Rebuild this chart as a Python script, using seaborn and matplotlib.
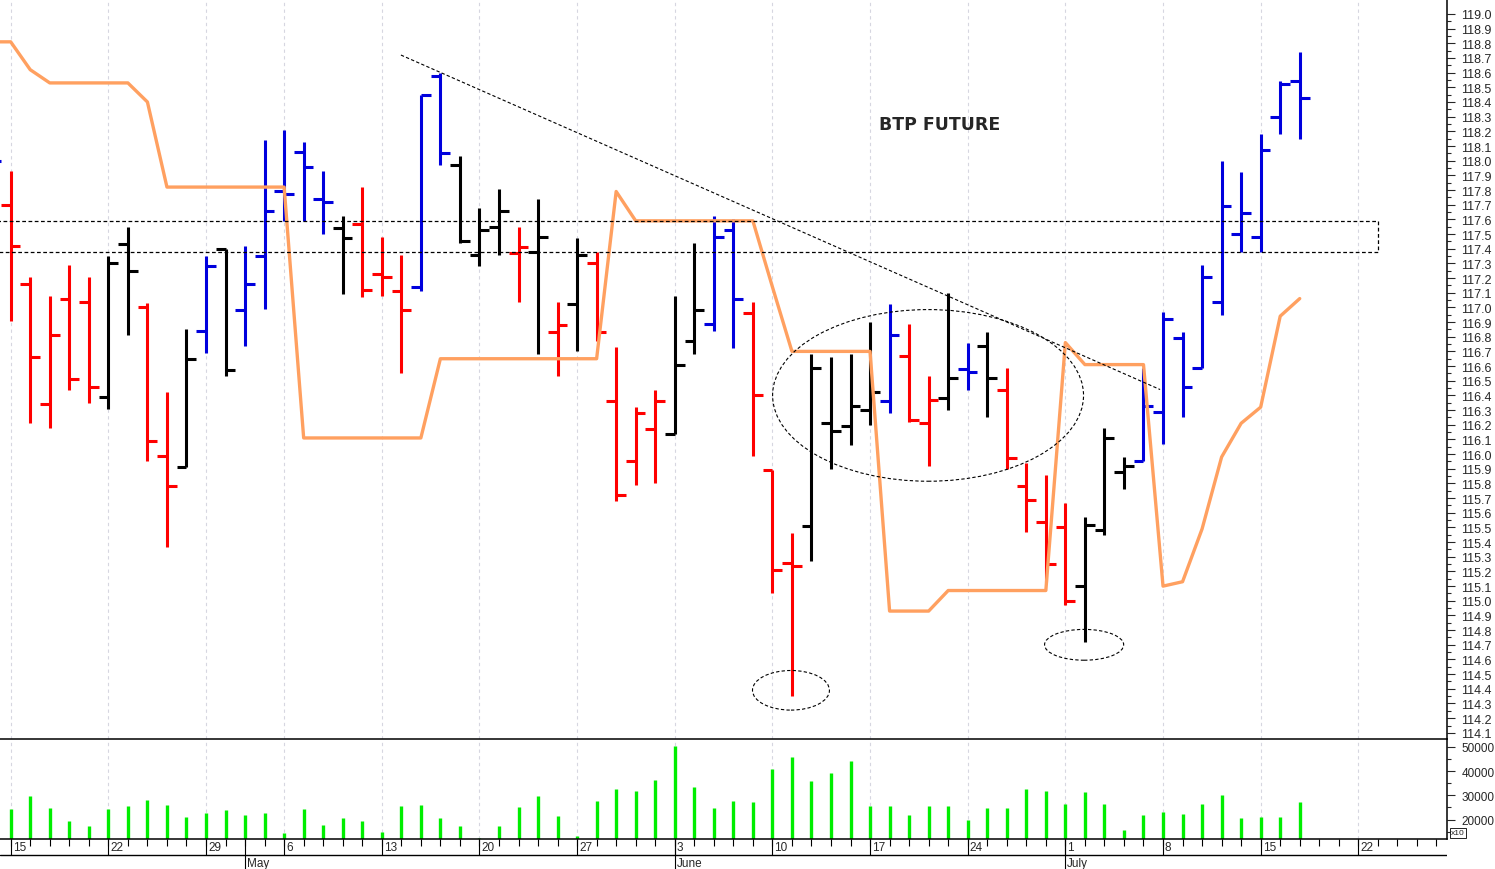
import numpy as np
import pandas as pd
import matplotlib
matplotlib.use("Agg")
import matplotlib.pyplot as plt
from matplotlib.patches import Ellipse, Rectangle
from matplotlib.ticker import FixedLocator, FormatStrFormatter
import seaborn as sns

sns.set_style("white")
plt.rcParams["font.family"] = ["Liberation Sans", "DejaVu Sans"]

# -----------------------
# DATA
# -----------------------
# trading days on the axis: 12 Apr .. 26 Jul 2013 (1 May closed), 15 Apr = 0
days = pd.bdate_range("2013-04-12", "2013-07-26")
days = days[days != pd.Timestamp("2013-05-01")]
pos = np.arange(len(days)) - 1

# daily bars 12 Apr .. 17 Jul
opens = [118.00, 117.70, 117.16, 116.34, 117.06, 117.04, 116.39, 117.43, 117.00, 115.99,
         115.91, 116.84, 117.40, 116.98, 117.35, 117.79, 118.06, 117.74, 117.54, 117.57,
         117.23, 117.11, 117.14, 118.58, 117.97, 117.36, 117.55, 117.37, 117.38, 116.83,
         117.02, 117.30, 116.36, 115.95, 116.17, 116.14, 116.77, 116.89, 117.53, 116.96,
         115.89, 115.26, 115.51, 116.21, 116.19, 116.30, 116.36, 116.67, 116.21, 116.38,
         116.58, 116.74, 116.44, 115.78, 115.54, 115.50, 115.10, 115.48, 115.88, 115.95,
         116.29, 116.79, 116.59, 117.04, 117.50, 117.48, 118.30, 118.54]
highs = [118.00, 117.93, 117.21, 117.08, 117.29, 117.21, 117.35, 117.55, 117.03, 116.42,
         116.85, 117.35, 117.40, 117.42, 118.14, 118.21, 118.13, 117.93, 117.62, 117.82,
         117.48, 117.36, 118.45, 118.60, 118.03, 117.68, 117.81, 117.55, 117.74, 117.04,
         117.47, 117.38, 116.73, 116.32, 116.44, 117.08, 117.44, 117.62, 117.60, 117.04,
         115.89, 115.46, 116.68, 116.66, 116.68, 116.90, 117.02, 116.89, 116.53, 117.10,
         116.76, 116.83, 116.59, 115.94, 115.86, 115.67, 115.57, 116.18, 115.98, 116.59,
         116.97, 116.83, 117.29, 118.00, 117.92, 118.18, 118.54, 118.74]
lows = [118.00, 116.91, 116.21, 116.18, 116.44, 116.35, 116.31, 116.81, 115.95, 115.37,
        115.91, 116.69, 116.53, 116.74, 116.99, 117.59, 117.59, 117.50, 117.09, 117.07,
        117.08, 116.55, 117.11, 117.97, 117.44, 117.28, 117.36, 117.04, 116.68, 116.53,
        116.70, 116.77, 115.68, 115.79, 115.80, 116.14, 116.68, 116.84, 116.72, 115.99,
        115.05, 114.35, 115.27, 115.90, 116.06, 116.20, 116.28, 116.22, 115.92, 116.30,
        116.44, 116.25, 115.90, 115.47, 115.13, 114.97, 114.72, 115.45, 115.76, 115.95,
        116.07, 116.25, 116.59, 116.95, 117.38, 117.38, 118.18, 118.15]
closes = [118.00, 117.42, 116.66, 116.81, 116.51, 116.46, 117.30, 117.25, 116.09, 115.78,
          116.65, 117.28, 116.57, 117.16, 117.66, 117.77, 117.96, 117.72, 117.47, 117.12,
          117.21, 116.98, 118.45, 118.05, 117.45, 117.53, 117.66, 117.41, 117.48, 116.88,
          117.36, 116.83, 115.72, 116.28, 116.36, 116.61, 116.98, 117.48, 117.06, 116.40,
          115.21, 115.24, 116.59, 116.16, 116.33, 116.42, 116.81, 116.23, 116.37, 116.52,
          116.56, 116.52, 115.97, 115.69, 115.25, 115.00, 115.52, 116.11, 115.92, 116.33,
          116.92, 116.46, 117.21, 117.69, 117.64, 118.07, 118.52, 118.43]
# trend state of each bar: b = up, r = down, k = neutral
state = list("brrrrrkkrrkbkbbbbbkrrrbbkkkrkrkrrrrkkbbrrrkkkkbrrkbkrrrrkkkbbbbbbbbb")

# orange indicator line
trend = [118.81, 118.81, 118.62, 118.53, 118.53, 118.53, 118.53, 118.53, 118.40, 117.82,
         117.82, 117.82, 117.82, 117.82, 117.82, 117.82, 116.11, 116.11, 116.11, 116.11,
         116.11, 116.11, 116.11, 116.65, 116.65, 116.65, 116.65, 116.65, 116.65, 116.65,
         116.65, 116.65, 117.79, 117.59, 117.59, 117.59, 117.59, 117.59, 117.59, 117.59,
         117.14, 116.70, 116.70, 116.70, 116.70, 116.70, 114.93, 114.93, 114.93, 115.07,
         115.07, 115.07, 115.07, 115.07, 115.07, 116.76, 116.61, 116.61, 116.61, 116.61,
         115.10, 115.13, 115.49, 115.98, 116.21, 116.32, 116.94, 117.06]

# volume 15 Apr .. 17 Jul (x10)
volume = [24400, 29900, 24800, 19600, 17500, 24300, 25500, 27900, 26100, 21200,
          22800, 24000, 21900, 22800, 14300, 24400, 17800, 20700, 19600, 14800,
          25500, 25900, 20700, 17200, 12400, 17400, 25200, 29800, 21500, 13100,
          27700, 32700, 31600, 36300, 50300, 33400, 24800, 27700, 27200, 41000,
          45800, 35900, 39200, 44300, 25400, 25400, 21900, 25500, 25800, 20000,
          24800, 24800, 32700, 31600, 26300, 31400, 26300, 15900, 21900, 23300,
          22300, 26300, 30200, 20700, 21200, 21100, 27300]

price_ticks = np.round(np.arange(114.1, 119.05, 0.1), 1)
vol_ticks = [20000, 30000, 40000, 50000]

# annotations drawn by hand on the chart (bar index, price)
trendline = ([19.98, 58.85], [118.72, 116.44])
zone = (117.38, 117.59, 70.0)
ellipses = [(46.97, 116.40, 15.92, 1.17), (39.95, 114.39, 3.94, 0.27), (54.96, 114.70, 4.05, 0.21)]

colors = {"r": "#ff0000", "k": "#000000", "b": "#0000dd"}
W, H = 1495, 870
xl = (-0.548, 73.54)

fig = plt.figure(figsize=(W / 100, H / 100), dpi=100)
ax = fig.add_axes([0, 130 / H, 1447 / W, 740 / H])
axv = fig.add_axes([0, 30 / H, 1447 / W, 100 / H])
axd = fig.add_axes([0, 0, 1447 / W, 30 / H])
for a in (ax, axv, axd):
    a.patch.set_alpha(0)

bx = pos[:len(opens)]
bc = [colors[s] for s in state]
mondays = pos[days.dayofweek == 0]
first_of_month = pos[1:][days.month[1:] != days.month[:-1]]

# -----------------------
# PRICE PANEL
# -----------------------
for m in mondays:
    ax.axvline(m, color="#d6d6e0", lw=0.8, ls=(0, (3, 3)), zorder=0)
    axv.axvline(m, color="#d6d6e0", lw=0.8, ls=(0, (3, 3)), zorder=0)

ax.vlines(bx, lows, highs, colors=bc, lw=2.2, zorder=2)
ax.hlines(opens, bx - 0.5, bx, colors=bc, lw=2.2, zorder=2)
ax.hlines(closes, bx, bx + 0.5, colors=bc, lw=2.2, zorder=2)

sns.lineplot(x=bx, y=trend, ax=ax, color="#ffa060", lw=2.4, zorder=3)

ax.plot(trendline[0], trendline[1], color="black", lw=0.8, ls=(0, (3, 2)), zorder=4)
ax.add_patch(Rectangle((-0.8, zone[0]), zone[2] + 0.8, zone[1] - zone[0], fill=False,
                       ec="black", lw=0.9, ls=(0, (3, 2)), zorder=4))
for cx, cy, w, h in ellipses:
    ax.add_patch(Ellipse((cx, cy), w, h, fill=False, ec="black", lw=0.8,
                         ls=(0, (3, 2)), zorder=4))
ax.text(47.58, 118.25, "BTP FUTURE", family="DejaVu Sans", fontweight="bold",
        fontsize=12.5, ha="center", va="center")

ax.set_xlim(xl)
ax.set_ylim(114.058, 119.102)
ax.set_xticks([])
ax.yaxis.tick_right()
ax.yaxis.set_major_locator(FixedLocator(price_ticks))
ax.yaxis.set_minor_locator(FixedLocator(np.round(price_ticks - 0.05, 2)))
ax.yaxis.set_major_formatter(FormatStrFormatter("%.1f"))
ax.tick_params(axis="y", which="major", length=5.8, width=0.8, pad=4.5, labelsize=9,
               right=True, left=False)
ax.tick_params(axis="y", which="minor", length=2.9, width=0.8, right=True, left=False)

# -----------------------
# VOLUME PANEL
# -----------------------
axv.vlines(pos[1:1 + len(volume)], 12000, volume, colors="#00ee00", lw=2.4, zorder=2)
axv.set_xlim(xl)
axv.set_ylim(12000, 53200)
axv.set_xticks([])
axv.yaxis.tick_right()
axv.yaxis.set_major_locator(FixedLocator(vol_ticks))
axv.yaxis.set_minor_locator(FixedLocator([v - 5000 for v in vol_ticks]))
axv.tick_params(axis="y", which="major", length=5.8, width=0.8, pad=4.5, labelsize=8.5,
                right=True, left=False)
axv.tick_params(axis="y", which="minor", length=2.9, width=0.8, right=True, left=False)
fig.text(1451 / W, 1 - 834 / H, "x10", fontsize=6, va="center", ha="left",
         bbox=dict(boxstyle="square,pad=0.15", fc="white", ec="black", lw=0.6))

for a in (ax, axv):
    for s in ("top", "left"):
        a.spines[s].set_visible(False)
    for s in ("right", "bottom"):
        a.spines[s].set_color("black")
        a.spines[s].set_linewidth(1.1)
        a.spines[s].set_zorder(5)

# -----------------------
# DATE ROW
# -----------------------
axd.set_xlim(xl)
axd.set_ylim(30, 0)
axd.axis("off")
axd.axhline(16, color="black", lw=1)
axd.vlines(pos, 0, 7, colors="black", lw=0.8)
axd.vlines(mondays, 0, 16, colors="black", lw=0.8)
axd.vlines(first_of_month, 0, 30, colors="black", lw=0.8)
for m in mondays:
    axd.text(m + 0.1, 8.5, str(days[m + 1].day), fontsize=8.5, ha="left", va="center")
for m in first_of_month:
    axd.text(m + 0.1, 24.5, days[m + 1].strftime("%B"), fontsize=8.5, ha="left", va="center")

fig.savefig("out.png", dpi=100)
